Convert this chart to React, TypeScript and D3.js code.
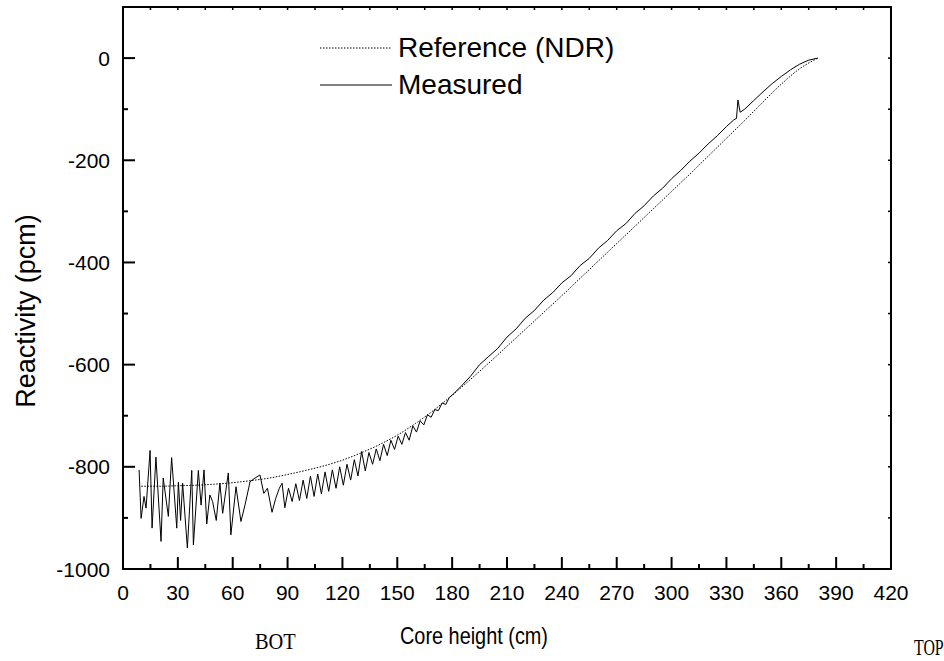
import React from "react";
import * as d3 from "d3";

const refHeights = [10,20,30,40,50,60,70,80,90,100,110,120,130,140,150,160,170,180,190,200,210,220,230,240,250,260,270,280,290,300,310,320,330,340,350,360,370,380];
const refValues = [-838,-838,-837,-836,-834,-831,-827,-822,-815,-807,-798,-787,-773,-757,-738,-715,-689,-660,-629,-597,-564,-531,-498,-465,-431,-397,-363,-329,-295,-261,-227,-192,-157,-122,-86,-51,-21,0];

const measHeights = [8.8,9.9,11.5,12.6,14.8,15.9,18.0,20.8,22.0,24.8,26.6,29.4,30.3,31.5,32.6,35.2,37.6,38.5,41.2,42.7,44.3,45.8,47.5,49.0,51.0,53.0,54.5,57.6,59.0,61.8,64.5,66.7,69.5,72.2,74.9,77.0,79.0,81.5,83.5,85.5,87.0,88.5,90.5,92.5,94.5,96.5,98.5,100.5,102.5,104.5,106.5,108.5,110.5,112.5,114.5,116.5,118.5,120.5,122.5,124.5,126.5,128.5,130.5,132.5,134.5,136.5,138.5,140.5,142.5,144.5,146.5,148.5,150.5,152.5,154.5,156.5,158.5,160.5,162.5,164.5,166.5,168.5,170.5,172.5,174.5,176.5,178.5,180.5,182.5,185,190,195,200,205,210,215,220,225,230,235,240,245,250,255,260,265,270,275,280,285,290,295,300,305,310,315,320,325,330,334,335.5,336.3,337.5,340,345,350,355,360,365,370,375,380];
const measValues = [-806,-901,-858,-881,-768,-920,-781,-946,-822,-897,-782,-920,-830,-905,-832,-959,-807,-953,-807,-875,-806,-912,-855,-868,-905,-832,-891,-812,-933,-839,-907,-875,-829,-822,-816,-852,-842,-889,-862,-842,-832,-880,-842,-868,-833,-866,-826,-862,-818,-858,-814,-853,-810,-848,-806,-842,-800,-836,-795,-826,-786,-818,-770,-808,-772,-795,-765,-788,-756,-778,-748,-766,-740,-756,-733,-748,-720,-732,-710,-718,-698,-703,-688,-690,-675,-678,-664,-658,-651,-642,-623,-600,-584,-568,-546,-530,-509,-494,-474,-459,-440,-426,-406,-392,-372,-357,-338,-324,-304,-289,-270,-255,-236,-220,-202,-186,-168,-152,-134,-121,-118,-82,-106,-100,-83,-66,-50,-36,-23,-12,-4,0];

const xTicks = [0,30,60,90,120,150,180,210,240,270,300,330,360,390,420];
const yTicks = [0,-200,-400,-600,-800,-1000];
const seriesNames = ["Reference (NDR)", "Measured"];

const W = 944, H = 661;
const L = 123, R = 891, T = 7, B = 569;
const SANS = "'Liberation Sans', Arial, Helvetica, sans-serif";
const SERIF = "'Liberation Serif', 'Times New Roman', serif";

export default function App() {
  const x = d3.scaleLinear().domain([0, 420]).range([L, R]);
  const y = d3.scaleLinear().domain([-1000, 100]).range([B, T]);

  const refData = refHeights.map((h, i) => [h, refValues[i]] as [number, number]);
  const measData = measHeights.map((h, i) => [h, measValues[i]] as [number, number]);

  const refLine = d3.line<[number, number]>().x(d => x(d[0])).y(d => y(d[1])).curve(d3.curveMonotoneX);
  const measLine = d3.line<[number, number]>().x(d => x(d[0])).y(d => y(d[1]));

  const xMinor = d3.range(0, 421, 15);
  const yMinor = d3.range(-1000, 101, 100);

  return (
    <svg width={W} height={H} style={{ position: "absolute", left: 0, top: 0, background: "#fff" }}>
      <rect x={0} y={0} width={W} height={H} fill="#fff" />
      <path d={refLine(refData) || ""} fill="none" stroke="#000" strokeWidth={1} strokeDasharray="1.5,1.5" />
      <path d={measLine(measData) || ""} fill="none" stroke="#000" strokeWidth={1} />

      {xMinor.map(v => {
        const major = v % 30 === 0;
        return <g key={"xb" + v}>
          <line x1={x(v)} x2={x(v)} y1={B} y2={B - (major ? 12 : 5)} stroke="#000" strokeWidth={2} />
          <line x1={x(v)} x2={x(v)} y1={T} y2={T + 3} stroke="#000" strokeWidth={1.5} />
        </g>;
      })}
      {yMinor.map(v => {
        const major = v % 200 === 0;
        return <g key={"yl" + v}>
          <line x1={L} x2={L + (major ? 12 : 5)} y1={y(v)} y2={y(v)} stroke="#000" strokeWidth={2} />
          <line x1={R} x2={R - 3} y1={y(v)} y2={y(v)} stroke="#000" strokeWidth={1.5} />
        </g>;
      })}
      <rect x={L} y={T} width={R - L} height={B - T} fill="none" stroke="#000" strokeWidth={2} />

      {xTicks.map(v => (
        <text key={"xl" + v} x={x(v)} y={600} textAnchor="middle" fontFamily={SANS} fontSize={21} fill="#000">{v}</text>
      ))}
      {yTicks.map(v => (
        <text key={"ylb" + v} x={110} y={y(v)} dy="0.36em" textAnchor="end" fontFamily={SANS} fontSize={21} fill="#000">{v}</text>
      ))}

      <text x={400} y={644} textLength={148} lengthAdjust="spacingAndGlyphs" fontFamily={SANS} fontSize={24} fill="#000">Core height (cm)</text>
      <text transform={`translate(35,311) rotate(-90)`} textAnchor="middle" fontFamily={SANS} fontSize={27} fill="#000">Reactivity (pcm)</text>
      <text transform="translate(255,649) scale(0.85,1)" fontFamily={SERIF} fontSize={24} fill="#000">BOT</text>
      <text transform="translate(914,655) scale(0.66,1)" fontFamily={SERIF} fontSize={24} fill="#000">TOP</text>

      <line x1={320} x2={392} y1={48} y2={48} stroke="#000" strokeWidth={1} strokeDasharray="1.5,1.5" />
      <text x={398} y={57} fontFamily={SANS} fontSize={28} fill="#000">{seriesNames[0]}</text>
      <line x1={320} x2={392} y1={85} y2={85} stroke="#000" strokeWidth={1} />
      <text x={398} y={94} fontFamily={SANS} fontSize={28} fill="#000">{seriesNames[1]}</text>
    </svg>
  );
}
